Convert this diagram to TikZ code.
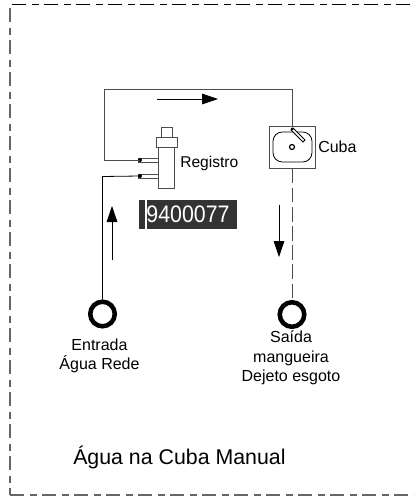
\documentclass[tikz,border=0pt]{standalone}
\usepackage{fontspec}
\setmainfont{Liberation Sans}
\usetikzlibrary{arrows.meta}
\definecolor{tagdark}{HTML}{333333}
\tikzset{
    framedash/.style={dash pattern=on 10.5pt off 4.5pt on 5.25pt off 3.75pt},
    pipe/.style={line width=0.7pt, black!70},
    flow/.style={line width=0.6pt, -{Triangle[length=12pt,width=8pt]}},
    port/.style={circle, draw, line width=3.4pt, minimum size=18.4pt, inner sep=0pt},
    label/.style={font=\fontsize{12pt}{14.7pt}\selectfont, align=center, inner sep=0pt}
}
\begin{document}
\begin{tikzpicture}[x=0.75pt, y=-0.75pt]
    \useasboundingbox (0,0) rectangle (414,496);

    % outer frame
    \draw[line width=0.8pt, framedash] (12,4.5) -- (414,4.5);
    \draw[line width=1.1pt, framedash, black!60] (10,8) -- (10,495);
    \draw[line width=1pt, framedash, black!60] (10,495) -- (414,495);

    % ports
    \node[port] (entrada) at (102.5,314) {};
    \node[port] (saida) at (292,314.5) {};
    \node[label] (entradatxt) at (99.5,356) {Entrada\\Água Rede};
    \node[label] (saidatxt) at (291,358) {Saída\\mangueira\\Dejeto esgoto};

    % registro
    \draw[pipe, fill=white] (161,127) rectangle (172,137);
    \draw[pipe, fill=white] (156,137) rectangle (177,147);
    \draw[pipe, fill=white] (158,147) rectangle (174,188);
    \draw[pipe] (138,158) rectangle (158,162);
    \draw[pipe] (138,174) rectangle (158,178);
    \coordinate (regtop) at (140,160);
    \coordinate (regbot) at (140,176);
    \fill (regtop) circle (2);
    \fill (regbot) circle (2);
    \node[label, anchor=west, font=\fontsize{11.7pt}{14pt}\selectfont] (registro) at (180,163) {Registro};

    % cuba
    \node[draw, pipe, minimum width=34.5pt, minimum height=31.5pt, inner sep=0pt] (cuba) at (292,147) {};
    \draw[line width=0.6pt, rounded corners=7pt] (273,132) rectangle (312,162);
    \draw[line width=0.9pt] (292,147) circle (2.5);
    \draw[line width=0.6pt, fill=white] (291,130) -- (303,142) -- (305,140) -- (293,128) -- cycle;
    \fill (292,129) circle (1.5);
    \node[label, anchor=west] (cubatxt) at (318,147) {Cuba};

    % pipes
    \draw[pipe] (regtop) -- (104,160) -- (104,89.5) -- (292,89.5) -- (cuba.north);
    \draw[line width=0.6pt] (entrada.north) -- (102.5,176.5) -- (regbot);
    \draw[line width=0.6pt, black!70, dash pattern=on 11pt off 3.4pt] (cuba.south) -- (saida.north);

    % flow arrows
    \draw[flow] (157,99) -- (218,99);
    \draw[flow] (112,260) -- (112,206);
    \draw[flow] (279,205) -- (279,257);

    % tag
    \node[fill=tagdark, minimum width=73.5pt, minimum height=21.75pt, inner sep=0pt, text=white,
        font=\fontsize{16pt}{18pt}\selectfont] (tag) at (188,214.5) {\scalebox{1}[1.12]{9400077}};
    \fill[white] (145,200) rectangle (146.5,229);

    \node[anchor=west, inner sep=0pt, font=\fontsize{16pt}{18pt}\selectfont] (titulo) at (73,457) {Água na Cuba Manual};
\end{tikzpicture}
\end{document}
